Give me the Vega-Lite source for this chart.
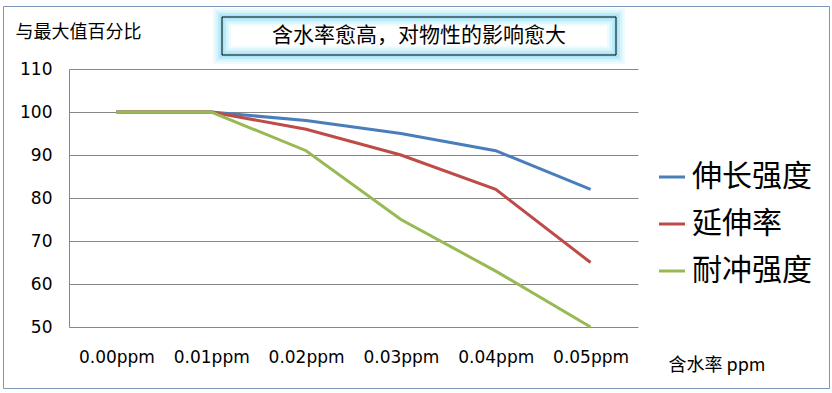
{
  "$schema": "https://vega.github.io/schema/vega-lite/v6.json",
  "width": 826,
  "height": 382,
  "autosize": {"type": "none"},
  "padding": {"left": 3, "top": 6, "right": 3, "bottom": 5},
  "background": "white",
  "config": {
    "view": {"stroke": "#7a96b8", "strokeWidth": 1},
    "font": "Noto Sans CJK SC"
  },
  "layer": [
    {
      "data": {
        "values": [
          {"ppm": "0.00ppm", "series": "伸长强度", "value": 100},
          {"ppm": "0.01ppm", "series": "伸长强度", "value": 100},
          {"ppm": "0.02ppm", "series": "伸长强度", "value": 98},
          {"ppm": "0.03ppm", "series": "伸长强度", "value": 95},
          {"ppm": "0.04ppm", "series": "伸长强度", "value": 91},
          {"ppm": "0.05ppm", "series": "伸长强度", "value": 82},
          {"ppm": "0.00ppm", "series": "延伸率", "value": 100},
          {"ppm": "0.01ppm", "series": "延伸率", "value": 100},
          {"ppm": "0.02ppm", "series": "延伸率", "value": 96},
          {"ppm": "0.03ppm", "series": "延伸率", "value": 90},
          {"ppm": "0.04ppm", "series": "延伸率", "value": 82},
          {"ppm": "0.05ppm", "series": "延伸率", "value": 65},
          {"ppm": "0.00ppm", "series": "耐冲强度", "value": 100},
          {"ppm": "0.01ppm", "series": "耐冲强度", "value": 100},
          {"ppm": "0.02ppm", "series": "耐冲强度", "value": 91},
          {"ppm": "0.03ppm", "series": "耐冲强度", "value": 75},
          {"ppm": "0.04ppm", "series": "耐冲强度", "value": 63},
          {"ppm": "0.05ppm", "series": "耐冲强度", "value": 50}
        ]
      },
      "mark": {"type": "line", "strokeWidth": 3},
      "encoding": {
        "x": {
          "field": "ppm",
          "type": "ordinal",
          "sort": null,
          "scale": {"type": "point", "range": [66, 635], "padding": 0.5},
          "axis": {
            "orient": "bottom",
            "offset": -61,
            "domain": false,
            "ticks": false,
            "grid": false,
            "labelAngle": 0,
            "labelFont": "DejaVu Sans",
            "labelFontSize": 17,
            "labelColor": "black",
            "labelPadding": 22,
            "title": "含水率 ppm",
            "titleFont": "Noto Sans CJK SC",
            "titleFontSize": 18,
            "titleFontWeight": "normal",
            "titleColor": "black",
            "titleAlign": "left",
            "titleBaseline": "middle",
            "titleX": 665,
            "titleY": 38
          }
        },
        "y": {
          "field": "value",
          "type": "quantitative",
          "scale": {"domain": [50, 110], "range": [321, 63], "nice": false, "zero": false},
          "axis": {
            "orient": "left",
            "offset": -66,
            "values": [50, 60, 70, 80, 90, 100, 110],
            "domain": true,
            "domainColor": "#868686",
            "ticks": false,
            "grid": true,
            "gridColor": "#868686",
            "gridOpacity": 1,
            "labelFont": "DejaVu Sans",
            "labelFontSize": 17,
            "labelColor": "black",
            "labelPadding": 17,
            "title": "与最大值百分比",
            "titleFont": "Noto Sans CJK SC",
            "titleFontSize": 18,
            "titleFontWeight": "normal",
            "titleColor": "black",
            "titleAngle": 0,
            "titleAlign": "left",
            "titleBaseline": "middle",
            "titleX": -54,
            "titleY": 26
          }
        },
        "color": {
          "field": "series",
          "type": "nominal",
          "sort": ["伸长强度", "延伸率", "耐冲强度"],
          "scale": {"domain": ["伸长强度", "延伸率", "耐冲强度"], "range": ["#4a7ebb", "#be4b48", "#98b954"]},
          "legend": {
            "title": null,
            "orient": "none",
            "legendX": 654,
            "legendY": 156,
            "padding": 0,
            "symbolType": "stroke",
            "symbolSize": 676,
            "symbolStrokeWidth": 3,
            "labelFont": "Noto Sans CJK SC",
            "labelFontSize": 30,
            "labelColor": "black",
            "labelOffset": 5,
            "rowPadding": 17,
            "labelLimit": 300
          }
        }
      }
    },
    {
      "data": {"values": [{"t": "含水率愈高，对物性的影响愈大"}]},
      "encoding": {
        "x": {"field": "t", "type": "nominal", "scale": {"type": "band", "range": [219, 613], "paddingInner": 0, "paddingOuter": 0}, "axis": null},
        "y": {"field": "t", "type": "nominal", "scale": {"type": "band", "range": [11, 49], "paddingInner": 0, "paddingOuter": 0}, "axis": null}
      },
      "layer": [
        {"mark": {"type": "rect", "fill": "white", "stroke": "#a3e6f8", "strokeWidth": 18, "strokeOpacity": 0.18}},
        {"mark": {"type": "rect", "fill": "transparent", "stroke": "#a3e6f8", "strokeWidth": 13, "strokeOpacity": 0.3}},
        {"mark": {"type": "rect", "fill": "transparent", "stroke": "#8fdff6", "strokeWidth": 8, "strokeOpacity": 0.4}},
        {"mark": {"type": "rect", "fill": "transparent", "stroke": "#8fdff6", "strokeWidth": 4, "strokeOpacity": 0.4}},
        {"mark": {"type": "rect", "fill": "transparent", "stroke": "black", "strokeWidth": 1}},
        {"mark": {"type": "text", "fontSize": 21, "font": "Noto Sans CJK SC", "color": "black"}, "encoding": {"text": {"field": "t"}}}
      ]
    }
  ],
  "resolve": {"scale": {"x": "independent", "y": "independent"}}
}
